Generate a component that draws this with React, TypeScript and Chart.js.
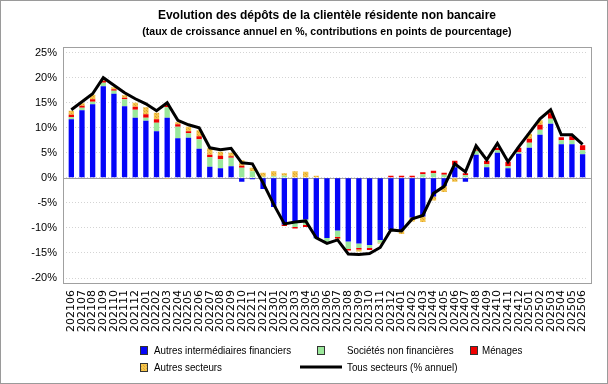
import React, { useEffect, useRef } from "react";
import { Chart, registerables } from "chart.js";
Chart.register(...registerables);

const categories = [
  "202106", "202107", "202108", "202109", "202110", "202111", "202112",
  "202201", "202202", "202203", "202204", "202205", "202206", "202207", "202208", "202209", "202210", "202211", "202212",
  "202301", "202302", "202303", "202304", "202305", "202306", "202307", "202308", "202309", "202310", "202311", "202312",
  "202401", "202402", "202403", "202404", "202405", "202406", "202407", "202408", "202409", "202410", "202411", "202412",
  "202501", "202502", "202503", "202504", "202505", "202506",
];

const autresIF = [
  11.7, 13.5, 14.7, 18.3, 16.8, 14.3, 12.0,
  11.4, 9.3, 12.0, 7.9, 8.0, 5.8, 2.2, 1.9, 2.3, -0.8, -0.3, -2.2,
  -5.8, -9.3, -9.0, -8.3, -12.0, -12.0, -10.5, -12.7, -13.1, -13.4, -12.4, -10.4,
  -10.5, -7.9, -7.7, -3.7, -1.6, 2.1, -0.8, 4.6, 2.1, 5.0, 1.9, 4.8,
  6.0, 8.6, 10.8, 6.7, 6.7, 4.7,
];

const societesNF = [
  0.4, 0.5, 0.5, 0.7, 0.6, 1.4, 1.6,
  0.6, 1.7, 2.1, 2.3, 0.9, 1.9, 1.9, 1.8, 1.7, 2.0, 1.3, 0.2,
  0.3, 0.4, -0.8, -1.1, -0.2, -0.7, -1.3, -1.5, -0.9, -0.6, -0.5, 0.0,
  0.0, 0.0, 0.7, 0.9, 0.6, 0.4, 0.5, 0.8, 0.6, 0.5, 0.4, 0.3,
  1.0, 1.0, 1.0, 0.8, 0.8, 0.8,
];

const menages = [
  0.5, 0.4, 0.5, 0.4, 0.3, 0.3, 0.6,
  0.7, 0.7, 0.7, 0.5, 0.4, 0.6, 0.5, 0.7, 0.3, 0.4, 0.0, 0.0,
  0.0, -0.3, -0.3, -0.4, 0.0, 0.0, -0.3, -0.3, -0.3, -0.4, 0.0, 0.4,
  0.4, 0.4, 0.4, 0.5, 0.4, 0.9, 0.4, 0.2, 0.7, 0.5, 0.9, 0.9,
  0.8, 1.0, 1.1, 0.6, 0.8, 1.0,
];

const autresSecteurs = [
  0.8, 0.5, 0.9, 0.2, 0.4, 0.5, 0.8,
  1.4, 1.3, -0.2, 0.4, 0.9, 1.2, 1.3, 0.8, 0.7, 1.1, 0.7, 0.8,
  1.0, 0.5, 1.3, 1.2, 0.4, 0.0, -0.2, 0.0, -0.4, 0.0, -0.2, 0.0,
  -0.7, -0.8, -1.1, -0.8, -1.2, -0.8, 0.0, 0.2, 0.0, 0.0, 0.0, 0.0,
  1.0, 0.9, 0.5, 0.0, 0.0, 0.0,
];

const tousSecteurs = [
  13.6, 15.2, 16.8, 20.0, 18.5, 17.0, 15.8,
  14.8, 13.4, 15.0, 11.5, 10.6, 10.0, 6.0, 5.6, 5.9, 3.0, 2.8, -1.0,
  -5.3, -9.2, -8.8, -8.6, -12.0, -13.1, -12.4, -15.2, -15.3, -15.1, -13.9, -10.4,
  -10.6, -8.2, -7.5, -3.1, -1.7, 2.8, 1.2, 6.4, 3.6, 6.9, 3.2, 6.2,
  9.0, 11.8, 13.6, 8.6, 8.6, 6.7,
];

const seriesLabels = [
  "Autres intermédiaires financiers",
  "Sociétés non financières",
  "Ménages",
  "Autres secteurs",
  "Tous secteurs (% annuel)",
];

const titleText = "Evolution des dépôts de la clientèle résidente non bancaire";
const subtitleText = "(taux de croissance annuel en %, contributions en points de pourcentage)";

const Y_MIN = -20;
const Y_MAX = 25;
const Y_STEP = 5;

const FONT = 'Arial, "Liberation Sans", sans-serif';
const XFONT = '"DejaVu Sans", Arial, sans-serif';

function makeYellowPattern(): CanvasPattern | string {
  const c = document.createElement("canvas");
  c.width = 3;
  c.height = 3;
  const g = c.getContext("2d");
  if (!g) return "#F2C24A";
  g.fillStyle = "#F5C44C";
  g.fillRect(0, 0, 3, 3);
  g.fillStyle = "#D9A431";
  g.fillRect(0, 0, 1, 1);
  g.fillRect(2, 2, 1, 1);
  const p = g.createPattern(c, "repeat");
  return p || "#F2C24A";
}

export default function App() {
  const ref = useRef<HTMLCanvasElement | null>(null);

  useEffect(() => {
    document.body.style.margin = "0";
    const canvas = ref.current;
    if (!canvas) return;
    const yellow = makeYellowPattern();

    const framePlugin = {
      id: "frame",
      beforeDatasetsDraw(chart: any) {
        const { ctx, chartArea } = chart;
        const y0 = Math.round(chart.scales.y.getPixelForValue(0)) + 0.5;
        ctx.save();
        ctx.strokeStyle = "#a0a0a0";
        ctx.lineWidth = 1;
        ctx.beginPath();
        ctx.moveTo(chartArea.left - 3, y0);
        ctx.lineTo(chartArea.right + 3, y0);
        ctx.stroke();
        ctx.restore();
      },
      afterDraw(chart: any) {
        const { ctx, chartArea } = chart;
        ctx.save();
        ctx.strokeStyle = "#a0a0a0";
        ctx.lineWidth = 1;
        const l = Math.round(chartArea.left) - 3;
        const r = Math.round(chartArea.right) + 3;
        const t = Math.round(chartArea.top) - 6;
        const b = Math.round(chartArea.bottom) + 5;
        ctx.strokeRect(l + 0.5, t + 0.5, r - l, b - t);
        ctx.strokeStyle = "#9a9a9a";
        ctx.strokeRect(0.5, 0.5, chart.width - 1, chart.height - 1);

        // legend
        const ds = chart.data.datasets;
        const items = [
          { i: 0, x: 140, y: 350, tx: 154 },
          { i: 1, x: 317, y: 350, tx: 347 },
          { i: 2, x: 470, y: 350, tx: 482 },
          { i: 3, x: 140, y: 367, tx: 154 },
          { i: 4, x: 300, y: 367, tx: 347, line: true },
        ];
        ctx.font = `11px ${FONT}`;
        ctx.textBaseline = "middle";
        ctx.textAlign = "left";
        for (const it of items) {
          const d = ds[it.i];
          if (it.line) {
            ctx.strokeStyle = d.borderColor;
            ctx.lineWidth = 3;
            ctx.beginPath();
            ctx.moveTo(it.x, it.y);
            ctx.lineTo(it.x + 42, it.y);
            ctx.stroke();
          } else {
            ctx.fillStyle = d.backgroundColor;
            ctx.fillRect(it.x, it.y - 4, 8, 9);
            ctx.strokeStyle = "#333";
            ctx.lineWidth = 1;
            ctx.strokeRect(it.x + 0.5, it.y - 3.5, 7, 8);
          }
          ctx.save();
          ctx.translate(it.tx, it.y + 0.5);
          ctx.scale(0.89, 1);
          ctx.fillStyle = "#000";
          ctx.fillText(d.label, 0, 0);
          ctx.restore();
        }
        ctx.restore();
      },
    };

    const barCommon = {
      type: "bar" as const,
      stack: "contrib",
      barPercentage: 0.5,
      categoryPercentage: 1.0,
      borderWidth: 0,
    };

    const chart = new Chart(canvas, {
      type: "bar",
      data: {
        labels: categories,
        datasets: [
          { ...barCommon, label: seriesLabels[0], data: autresIF, backgroundColor: "#0505f8" },
          { ...barCommon, label: seriesLabels[1], data: societesNF, backgroundColor: "#9be89b" },
          { ...barCommon, label: seriesLabels[2], data: menages, backgroundColor: "#f00000" },
          { ...barCommon, label: seriesLabels[3], data: autresSecteurs, backgroundColor: yellow as any },
          {
            type: "line" as const,
            label: seriesLabels[4],
            data: tousSecteurs,
            stack: "total",
            order: -1,
            borderColor: "#000000",
            backgroundColor: "#000000",
            borderWidth: 3,
            pointRadius: 0,
            tension: 0,
            fill: false,
          } as any,
        ],
      },
      options: {
        responsive: false,
        animation: false,
        layout: { padding: { left: 0, right: 13, top: 0, bottom: 0 } },
        plugins: {
          legend: { display: false },
          tooltip: { enabled: false },
          title: {
            display: true,
            text: titleText,
            fullSize: false,
            color: "#000",
            font: { family: FONT, size: 12, weight: "bold", lineHeight: 1.2 },
            padding: { top: 8.5, bottom: 0 },
          },
          subtitle: {
            display: true,
            text: subtitleText,
            fullSize: false,
            color: "#000",
            font: { family: FONT, size: 10.5, weight: "bold", lineHeight: 1.2 },
            padding: { top: 2.8, bottom: 14.4 },
          },
        },
        scales: {
          x: {
            stacked: true,
            grid: { display: false, drawTicks: false },
            border: { display: false },
            ticks: {
              autoSkip: false,
              minRotation: 90,
              maxRotation: 90,
              padding: 12,
              color: "#000",
              font: { family: XFONT, size: 11 },
            },
            afterFit: (scale: any) => {
              scale.height = 106;
            },
          },
          y: {
            stacked: true,
            min: Y_MIN,
            max: Y_MAX,
            grid: { color: "#d4d4d4", drawTicks: false },
            border: { display: false, dash: [1, 2] },
            ticks: {
              stepSize: Y_STEP,
              padding: 9,
              color: "#000",
              font: { family: FONT, size: 11 },
              callback: (v: any) => `${v}%`,
            },
            afterFit: (scale: any) => {
              scale.width = 66;
            },
          },
        },
      },
      plugins: [framePlugin],
    });

    return () => chart.destroy();
  }, []);

  return (
    <div style={{ position: "absolute", left: 0, top: 0, width: 608, height: 384, background: "#fff" }}>
      <canvas ref={ref} width={608} height={384} />
    </div>
  );
}
